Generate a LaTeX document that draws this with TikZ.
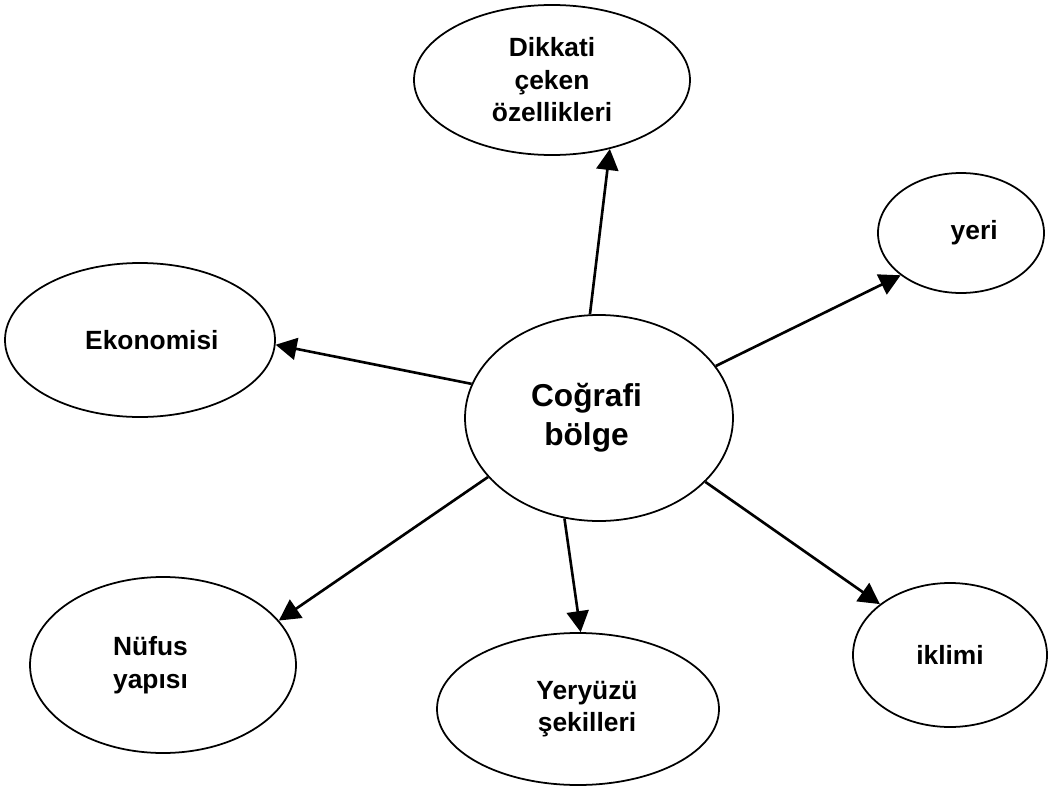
\documentclass[tikz,border=0pt]{standalone}
\usepackage{fontspec}
\setmainfont{Liberation Sans}
\usepackage{tikz}
\usetikzlibrary{shapes.geometric,arrows.meta}
\tikzset{
topic/.style={ellipse, draw, line width=1pt, inner sep=0pt, align=center,
  font=\fontsize{15}{18.5}\selectfont\bfseries},
link/.style={line width=1.5pt, -{Triangle[length=4.2mm,width=4.4mm]}}
}

\begin{document}
\begin{tikzpicture}[x=0.2mm, y=-0.2mm]
  \useasboundingbox (0,0) rectangle (1056,789);
  \node[topic, minimum width=53.6mm, minimum height=41.2mm,
    font=\fontsize{18}{22}\selectfont\bfseries] (bolge) at (599,418) {Coğrafi\hspace*{5mm}\\bölge\hspace*{5mm}};
  \node[topic, minimum width=55.2mm, minimum height=30mm] (dikkat) at (552,80) {Dikkati\\çeken\\özellikleri};
  \node[topic, minimum width=33.2mm, minimum height=24mm] (yeri) at (961,233) {\hspace{1em}yeri};
  \node[topic, minimum width=54mm, minimum height=30.8mm] (eko) at (140,340) {\hspace{0.9em}Ekonomisi};
  \node[topic, minimum width=53.2mm, minimum height=35.2mm] (nufus) at (163,665) {Nüfus\hspace*{5mm}\\yapısı\hspace*{5mm}};
  \node[topic, minimum width=56.4mm, minimum height=30.4mm] (yeryuzu) at (578,709) {\hspace*{3.6mm}Yeryüzü\\\hspace*{3.6mm}şekilleri};
  \node[topic, minimum width=38.8mm, minimum height=28.8mm] (iklim) at (950,655) {iklimi};
  \draw[link] (bolge.95) -- (dikkat.-50);
  \draw[link] (bolge.24) -- (yeri.215);
  \draw[link] (bolge.165) -- (eko.-2);
  \draw[link] (bolge.208) -- (nufus.21);
  \draw[link] (bolge.251) -- (yeryuzu.88);
  \draw[link] (bolge.-31) -- (iklim.144);
\end{tikzpicture}
\end{document}
